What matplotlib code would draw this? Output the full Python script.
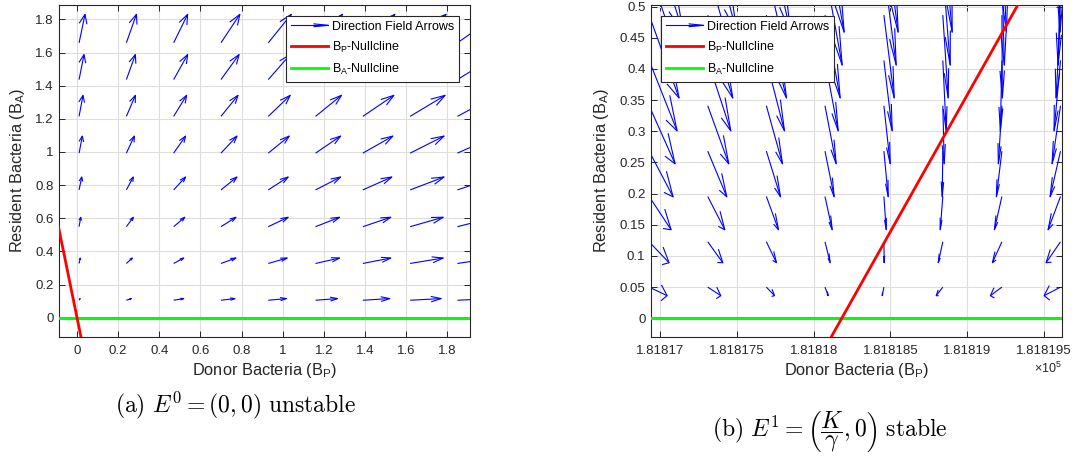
import numpy as np
import matplotlib.pyplot as plt
from matplotlib.collections import LineCollection
from matplotlib.legend_handler import HandlerBase
from matplotlib.lines import Line2D
from matplotlib.ticker import FormatStrFormatter, FuncFormatter

plt.rcParams['font.family'] = ['Liberation Sans', 'DejaVu Sans']
plt.rcParams['mathtext.fontset'] = 'custom'
plt.rcParams['mathtext.rm'] = 'Liberation Sans'
plt.rcParams['mathtext.it'] = 'Liberation Sans:italic'
plt.rcParams['mathtext.bf'] = 'Liberation Sans:bold'

# ---- panel (a): direction field near E0 = (0, 0) ----
bp_a = [0.01, 0.24, 0.47, 0.70, 0.93, 1.16, 1.39, 1.62, 1.85]
ba_a = [0.105, 0.327, 0.549, 0.771, 0.993, 1.215, 1.437, 1.659]
# arrow components (already scaled as drawn), one row per BA level
u_a = [
    [0.005, 0.024, 0.049, 0.068, 0.088, 0.107, 0.131, 0.151, 0.170],
    [0.006, 0.029, 0.049, 0.073, 0.092, 0.117, 0.136, 0.161, 0.180],
    [0.008, 0.034, 0.054, 0.073, 0.097, 0.117, 0.136, 0.161, 0.180],
    [0.013, 0.034, 0.058, 0.078, 0.097, 0.122, 0.141, 0.165, 0.185],
    [0.016, 0.039, 0.058, 0.078, 0.102, 0.122, 0.146, 0.165, 0.185],
    [0.019, 0.044, 0.063, 0.083, 0.107, 0.126, 0.151, 0.170, 0.190],
    [0.024, 0.044, 0.068, 0.088, 0.107, 0.131, 0.151, 0.175, 0.195],
    [0.029, 0.049, 0.068, 0.092, 0.112, 0.131, 0.156, 0.175, 0.199],
]
v_a = [0.010, 0.033, 0.057, 0.078, 0.103, 0.127, 0.151, 0.172]
bp_null_a_x = [-0.09, 0.025]
bp_null_a_y = [0.547, -0.152]
xlim_a = (-0.086, 1.911)
ylim_a = (-0.115, 1.889)

# ---- panel (b): direction field near E1 = (K/gamma, 0) ----
bp_b = [181816.928, 181817.310, 181817.692, 181818.074,
        181818.458, 181818.842, 181819.227, 181819.609]
ba_b = [0.050, 0.1227, 0.1954, 0.2681, 0.3409, 0.4136, 0.4863,
        0.5590, 0.6318, 0.7045]
u_b = [
    [0.117, 0.085, 0.053, 0.021, -0.011, -0.043, -0.075, -0.107],
    [0.130, 0.098, 0.066, 0.034, 0.002, -0.030, -0.062, -0.094],
    [0.143, 0.111, 0.079, 0.047, 0.015, -0.017, -0.049, -0.081],
    [0.156, 0.124, 0.092, 0.060, 0.028, -0.004, -0.036, -0.068],
    [0.169, 0.137, 0.105, 0.073, 0.041, 0.009, -0.023, -0.055],
    [0.182, 0.150, 0.118, 0.086, 0.054, 0.022, -0.010, -0.042],
    [0.195, 0.163, 0.131, 0.099, 0.067, 0.035, 0.003, -0.029],
    [0.208, 0.176, 0.144, 0.112, 0.080, 0.048, 0.016, -0.016],
    [0.221, 0.189, 0.157, 0.125, 0.093, 0.061, 0.029, -0.003],
    [0.234, 0.202, 0.170, 0.138, 0.106, 0.074, 0.042, 0.010],
]
v_b = [-0.0137, -0.0336, -0.0534, -0.0733, -0.0932, -0.113, -0.133,
       -0.153, -0.173, -0.193]
bp_null_b_x = [181818.10, 181819.36]
bp_null_b_y = [-0.0364, 0.5155]
xlim_b = (181816.940, 181819.617)
ylim_b = (-0.0295, 0.503)
xticks_b = [181817, 181817.5, 181818, 181818.5, 181819, 181819.5]

ARROW = 'blue'
GRID = '#dedede'
DARK = '0.15'


def draw_field(ax, xs, ys, U, V):
    # quiver-style arrows: shaft plus a two-line head built in data space
    alpha, beta = 0.33, 0.33
    segs = []
    for j, y0 in enumerate(ys):
        for i, x0 in enumerate(xs):
            u, v = U[j][i], V[j]
            x1, y1 = x0 + u, y0 + v
            segs.append([(x0, y0), (x1, y1)])
            segs.append([(x1 - alpha * (u + beta * v), y1 - alpha * (v - beta * u)),
                         (x1, y1),
                         (x1 - alpha * (u - beta * v), y1 - alpha * (v + beta * u))])
    ax.add_collection(LineCollection(segs, colors=ARROW, linewidths=0.8, zorder=2))


class ArrowHandler(HandlerBase):
    def create_artists(self, legend, orig_handle, xdescent, ydescent,
                       width, height, fontsize, trans):
        y = height / 2 - ydescent
        x0, x1 = -xdescent, width - xdescent
        hl = 0.38 * width
        shaft = Line2D([x0, x1], [y, y], color=ARROW, lw=0.8, transform=trans)
        head = Line2D([x1 - hl, x1, x1 - hl], [y + 0.16 * height, y, y - 0.16 * height],
                      color=ARROW, lw=0.8, transform=trans)
        return [shaft, head]


def style_axes(ax):
    ax.set_axisbelow(True)
    ax.grid(True, color=GRID, lw=0.8)
    ax.tick_params(direction='in', top=True, right=True, length=4, width=0.7,
                   color=DARK, labelcolor=DARK, labelsize=9.5)
    ax.tick_params(axis='x', pad=6)
    ax.tick_params(axis='y', pad=4)
    for s in ax.spines.values():
        s.set_color(DARK)
        s.set_linewidth(0.8)
    ax.set_xlabel('Donor Bacteria (B$_\\mathrm{P}$)', fontsize=11.8, color=DARK, labelpad=3)
    ax.set_ylabel('Resident Bacteria (B$_\\mathrm{A}$)', fontsize=11.8, color=DARK, labelpad=6)


def add_legend(ax, loc, anchor):
    handles = [Line2D([], [], color=ARROW),
               Line2D([], [], color='red', lw=2),
               Line2D([], [], color='#00ff00', lw=2)]
    labels = ['Direction Field Arrows', 'B$_\\mathrm{P}$-Nullcline', 'B$_\\mathrm{A}$-Nullcline']
    leg = ax.legend(handles, labels, loc=loc, bbox_to_anchor=anchor, fontsize=9,
                    handler_map={handles[0]: ArrowHandler()}, handlelength=3.0,
                    handletextpad=0.3, borderpad=0.4, labelspacing=0.55,
                    borderaxespad=0, fancybox=False, framealpha=1, edgecolor=DARK)
    leg.get_frame().set_linewidth(0.8)
    leg.set_zorder(5)


fig = plt.figure(figsize=(10.73, 4.66), dpi=100)
ax1 = fig.add_axes([0.0553, 0.2775, 0.3827, 0.7124])
ax2 = fig.add_axes([0.6067, 0.2775, 0.3828, 0.7124])

# (a)
draw_field(ax1, bp_a, ba_a, u_a, v_a)
ax1.axhline(0, color='#00ff00', lw=2.2, zorder=3)
ax1.plot(bp_null_a_x, bp_null_a_y, color='red', lw=2, zorder=3)
ax1.set_xlim(*xlim_a)
ax1.set_ylim(*ylim_a)
ax1.set_xticks(np.arange(0, 1.81, 0.2))
ax1.set_yticks(np.arange(0, 1.81, 0.2))
ax1.xaxis.set_major_formatter(FormatStrFormatter('%g'))
ax1.yaxis.set_major_formatter(FormatStrFormatter('%g'))
style_axes(ax1)
add_legend(ax1, 'upper right', (0.974, 0.967))

# (b)
draw_field(ax2, bp_b, ba_b, u_b, v_b)
ax2.axhline(0, color='#00ff00', lw=2.2, zorder=3)
ax2.plot(bp_null_b_x, bp_null_b_y, color='red', lw=2, zorder=3)
ax2.set_xlim(*xlim_b)
ax2.set_ylim(*ylim_b)
ax2.set_xticks(xticks_b)
ax2.set_yticks(np.arange(0, 0.501, 0.05))
ax2.xaxis.set_major_formatter(FuncFormatter(lambda t, p: f'{t / 1e5:.7g}'))
ax2.yaxis.set_major_formatter(FuncFormatter(lambda t, p: f'{t:.2f}'.rstrip('0').rstrip('.')))
style_axes(ax2)
add_legend(ax2, 'upper left', (0.0243, 0.967))
ax2.text(1.0, -0.097, r'$\times$10$^5$', transform=ax2.transAxes, ha='right', va='center',
         fontsize=9, color=DARK)

# sub-figure captions
fig.text(236 / 1073, 1 - 405 / 466, r'$\mathrm{(a)}\ E^0 = (0,0)\ \mathrm{unstable}$',
         ha='center', va='center', fontsize=17, math_fontfamily='cm')
fig.text(830 / 1073, 1 - 432 / 466,
         r'$\mathrm{(b)}\ E^1 = \left(\dfrac{K}{\gamma}, 0\right)\ \mathrm{stable}$',
         ha='center', va='center', fontsize=17, math_fontfamily='cm')

fig.savefig('out.png', dpi=100)
